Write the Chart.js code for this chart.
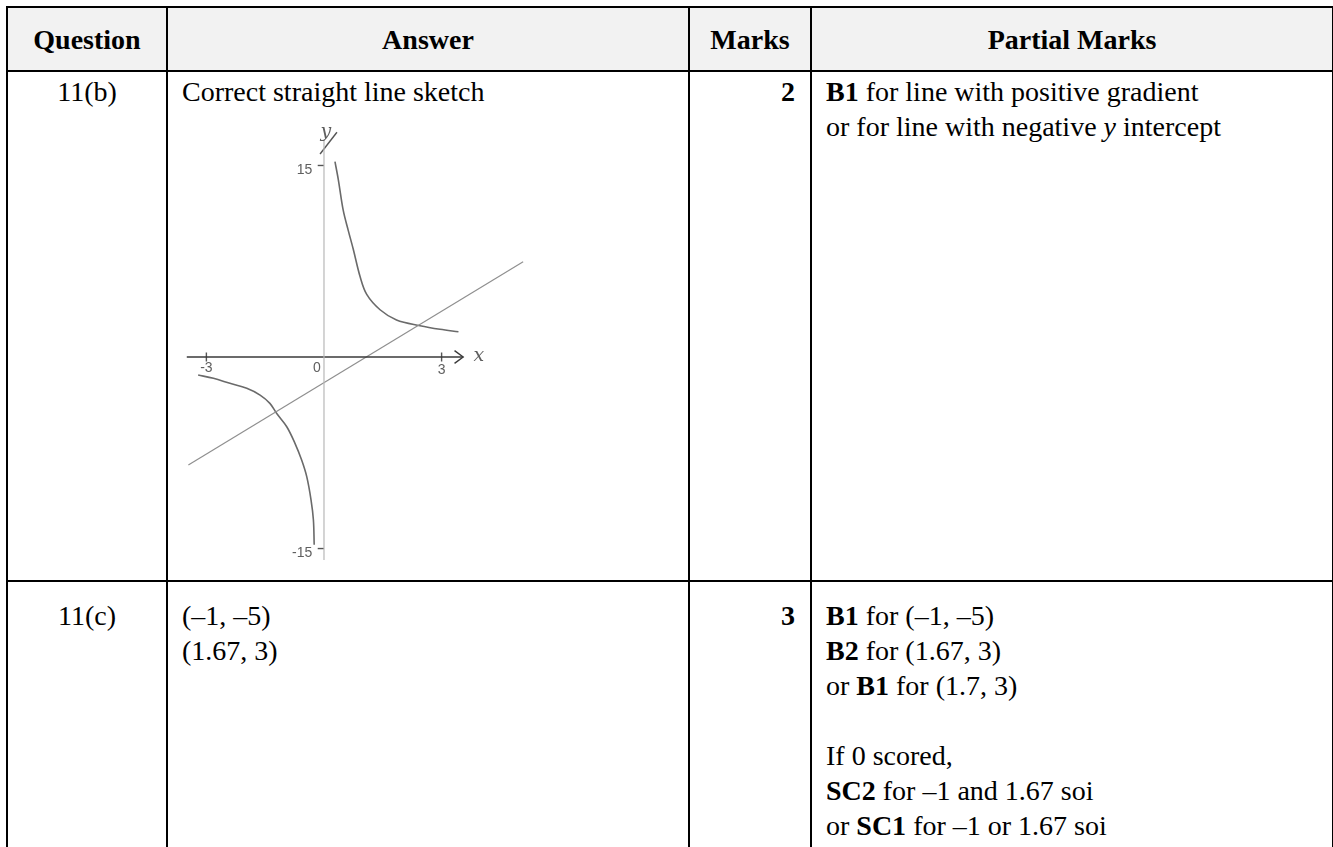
<!DOCTYPE html>
<html>
<head>
<meta charset="utf-8">
<title>Question 11(b), 11(c) mark scheme</title>
<script src="https://cdn.jsdelivr.net/npm/chart.js@4.4.1/dist/chart.umd.min.js"></script>
<style>
  html, body { margin: 0; padding: 0; background: #fff; overflow: hidden; }
  body { width: 1333px; height: 847px; position: relative; color: #000;
         font-family: "Liberation Serif", "Times New Roman", serif; }
  table { position: absolute; left: 6px; top: 6px; width: 1326px;
          border-collapse: collapse; table-layout: fixed;
          font-size: 28px; line-height: 35px; }
  th, td { border: 2px solid #000; padding: 0 14px; vertical-align: top; }
  th { background: #f2f2f2; height: 62px; vertical-align: middle; text-align: center; }
  tr.rowB td { height: 506px; padding-top: 2px; }
  tr.rowC td { height: 300px; padding-top: 16px; }
  td.q { text-align: center; }
  td.m { text-align: right; font-weight: bold; padding-right: 15px; }
  #sketch { position: absolute; left: 180px; top: 125px; width: 360px; height: 445px; }
</style>
</head>
<body>

<table>
  <colgroup>
    <col style="width:160px">
    <col style="width:522px">
    <col style="width:122px">
    <col style="width:522px">
  </colgroup>
  <tr>
    <th>Question</th>
    <th>Answer</th>
    <th>Marks</th>
    <th>Partial Marks</th>
  </tr>
  <tr class="rowB">
    <td class="q">11(b)</td>
    <td>Correct straight line sketch</td>
    <td class="m">2</td>
    <td><b>B1</b> for line with positive gradient<br>or for line with negative <i>y</i> intercept</td>
  </tr>
  <tr class="rowC">
    <td class="q">11(c)</td>
    <td>(–1, –5)<br>(1.67, 3)</td>
    <td class="m">3</td>
    <td><b>B1</b> for (–1, –5)<br><b>B2</b> for (1.67, 3)<br>or <b>B1</b> for (1.7, 3)<br><br>If 0 scored,<br><b>SC2</b> for –1 and 1.67 soi<br>or <b>SC1</b> for –1 or 1.67 soi</td>
  </tr>
</table>

<div id="sketch"><canvas id="sketchChart" width="360" height="445"></canvas></div>

<script>
// ---- hand sketch (x and y in sketch units) ----
const upperBranch = [
  { x: 0.28, y: 15.3 }, { x: 0.365, y: 13.9 }, { x: 0.49, y: 11.5 }, { x: 0.62, y: 9.9 },
  { x: 0.75, y: 8.4 }, { x: 0.92, y: 6.3 }, { x: 1.09, y: 4.9 }, { x: 1.43, y: 3.7 },
  { x: 1.85, y: 2.9 }, { x: 2.45, y: 2.45 }, { x: 2.96, y: 2.17 }, { x: 3.43, y: 1.98 }
];
const lowerBranch = [
  { x: -3.21, y: -1.41 }, { x: -2.82, y: -1.67 }, { x: -2.40, y: -2.06 }, { x: -1.97, y: -2.45 },
  { x: -1.63, y: -2.98 }, { x: -1.38, y: -3.63 }, { x: -1.21, y: -4.41 }, { x: -0.95, y: -5.46 },
  { x: -0.74, y: -6.76 }, { x: -0.57, y: -8.07 }, { x: -0.44, y: -9.37 }, { x: -0.33, y: -11.2 },
  { x: -0.27, y: -12.76 }, { x: -0.25, y: -14.7 }
];
const straightLine = [{ x: -3.46, y: -8.46 }, { x: 5.08, y: 7.46 }];

const xAxisLine = [{ x: -3.5, y: 0 }, { x: 3.55, y: 0 }];
const xArrow = [{ x: 3.33, y: 0.5 }, { x: 3.55, y: 0 }, { x: 3.33, y: -0.5 }];
const yAxisLine = [{ x: 0, y: 17 }, { x: 0, y: -15.9 }];
const yScribble = [{ x: -0.1, y: 15.9 }, { x: 0.33, y: 17.6 }];

const tickTop = [{ x: -0.16, y: 15 }, { x: 0, y: 15 }];
const tickBottom = [{ x: -0.16, y: -15 }, { x: 0, y: -15 }];
const tickLeft = [{ x: -3, y: 0.35 }, { x: -3, y: -0.35 }];
const tickRight = [{ x: 3, y: 0.35 }, { x: 3, y: -0.35 }];

const sketchLabels = ["15", "-15", "-3", "0", "3", "x", "y"];
const labelX = [-0.3, -0.3, -3.0, -0.18, 3.0, 3.95, 0.05];
const labelY = [14.65, -15.35, -0.9, -0.9, -1.0, 0.05, 17.6];
const labelAlign = ["right", "right", "center", "center", "center", "center", "center"];

// sketch window (x and y ranges of the drawing area)
const xRange = [-3.673, 5.51];
const yRange = [-16.68, 18.17];

function stroke(data, color, width, tension) {
  return {
    data,
    showLine: true,
    borderColor: color,
    borderWidth: width,
    pointRadius: 0,
    tension: tension || 0,
    fill: false
  };
}

// draws the pencilled tick labels
const sketchText = {
  id: "sketchText",
  afterDatasetsDraw(chart) {
    const { ctx, scales } = chart;
    ctx.save();
    ctx.fillStyle = "#5f5f5f";
    ctx.textBaseline = "middle";
    sketchLabels.forEach((t, i) => {
      const px = scales.x.getPixelForValue(labelX[i]);
      const py = scales.y.getPixelForValue(labelY[i]);
      ctx.font = (t === "x" || t === "y") ? "italic 19px 'DejaVu Serif'" : "14px 'Liberation Sans'";
      ctx.textAlign = labelAlign[i];
      ctx.fillText(t, px, py);
    });
    ctx.restore();
  }
};

new Chart(document.getElementById("sketchChart").getContext("2d"), {
  type: "scatter",
  data: {
    datasets: [
      stroke(yAxisLine, "#b8b8b8", 1.2),
      stroke(xAxisLine, "#3a3a3a", 1.6),
      stroke(xArrow, "#3a3a3a", 1.4),
      stroke(tickTop, "#555", 1.4),
      stroke(tickBottom, "#555", 1.4),
      stroke(tickLeft, "#555", 1.4),
      stroke(tickRight, "#555", 1.4),
      stroke(yScribble, "#555", 1.4),
      stroke(straightLine, "#8f8f8f", 1.2),
      stroke(upperBranch, "#6a6a6a", 1.6, 0.35),
      stroke(lowerBranch, "#6a6a6a", 1.6, 0.35)
    ]
  },
  options: {
    responsive: false,
    animation: false,
    events: [],
    layout: { padding: 0 },
    plugins: { legend: { display: false }, tooltip: { enabled: false } },
    scales: {
      x: { type: "linear", min: xRange[0], max: xRange[1], display: false },
      y: { type: "linear", min: yRange[0], max: yRange[1], display: false }
    }
  },
  plugins: [sketchText]
});
</script>
</body>
</html>
